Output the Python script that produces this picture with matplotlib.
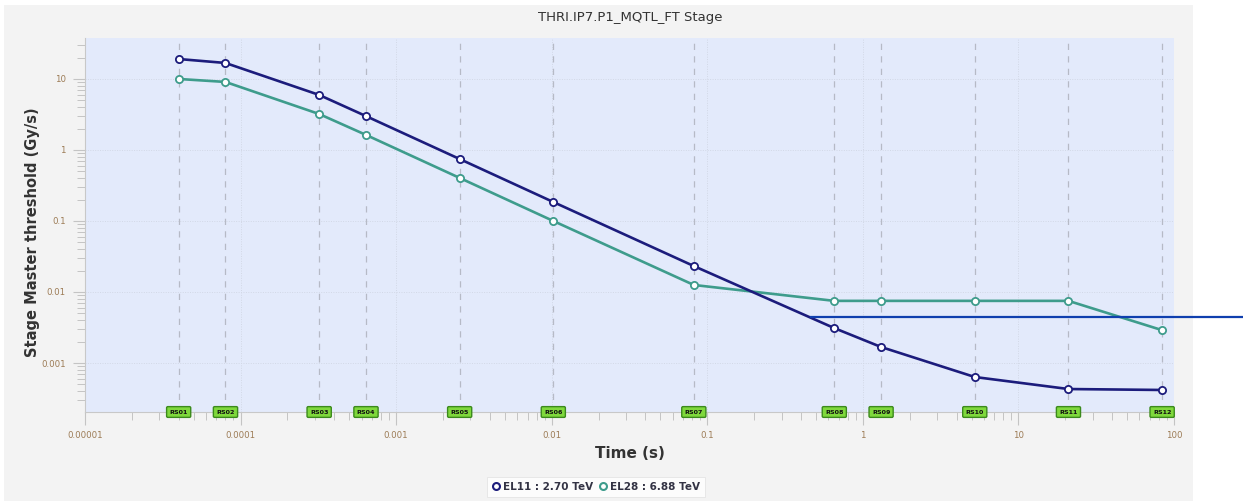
import matplotlib.pyplot as plt
import matplotlib.ticker as ticker
import matplotlib.transforms as mtransforms
from matplotlib.lines import Line2D
from matplotlib.patches import Rectangle

# running sums (s)
rs_names = ['RS01', 'RS02', 'RS03', 'RS04', 'RS05', 'RS06',
            'RS07', 'RS08', 'RS09', 'RS10', 'RS11', 'RS12']
rs_times = [4e-5, 8e-5, 3.2e-4, 6.4e-4, 2.56e-3, 1.024e-2,
            8.192e-2, 0.65536, 1.31, 5.24, 20.97, 83.89]

# thresholds (Gy/s)
el11 = [19.1, 16.8, 5.96, 3.0, 0.746, 0.185,
        0.0232, 0.0031, 0.00168, 0.000635, 0.00043, 0.000417]
el28 = [10.0, 9.08, 3.21, 1.63, 0.404, 0.1,
        0.01256, 0.0075, 0.0075, 0.0075, 0.0075, 0.0029]

x_ticks = [1e-5, 1e-4, 1e-3, 1e-2, 1e-1, 1, 10, 100]
x_labels = ['0.00001', '0.0001', '0.001', '0.01', '0.1', '1', '10', '100']
y_ticks = [1e-3, 1e-2, 1e-1, 1, 10]
y_labels = ['0.001', '0.01', '0.1', '1', '10']

navy = '#1c1c7c'
teal = '#3e9c8c'
tick_col = '#9c7b55'

W, H = 1243, 501
fig = plt.figure(figsize=(W / 100, H / 100), dpi=100)
fig.patch.set_facecolor('white')
# grey panel behind the chart
fig.patches.append(Rectangle((4 / W, 0), 1189 / W, 1 - 5 / H, transform=fig.transFigure,
                             facecolor='#f3f3f3', edgecolor='none', zorder=-10))

ax = fig.add_axes([85 / W, 1 - 412 / H, 1089 / W, 374 / H])
ax.set_facecolor('#e3eafb')
ax.set_xscale('log')
ax.set_yscale('log')
ax.set_xlim(1e-5, 100)
ax.set_ylim(10 ** -3.69, 10 ** 1.577)

# decade grid
for xv in x_ticks:
    ax.axvline(xv, color='#d2d8e6', lw=0.7, ls=(0, (1, 1.5)), zorder=1)
for yv in y_ticks:
    ax.axhline(yv, color='#d2d8e6', lw=0.7, ls=(0, (1, 1.5)), zorder=1)
# running sum markers
for t in rs_times:
    ax.axvline(t, color='#b6bac6', lw=0.9, ls=(0, (5, 5)), zorder=2)

ax.plot(rs_times, el11, color=navy, lw=1.9, marker='o', ms=5.2,
        mfc='white', mec=navy, mew=1.3, zorder=5)
ax.plot(rs_times, el28, color=teal, lw=1.9, marker='o', ms=5.2,
        mfc='white', mec=teal, mew=1.3, zorder=4)

trans = mtransforms.blended_transform_factory(ax.transData, ax.transAxes)
for name, t in zip(rs_names, rs_times):
    ax.text(t, 0.0, name, transform=trans, ha='center', va='center',
            fontsize=4.6, fontweight='bold', color='#111111', zorder=6, clip_on=False,
            bbox=dict(boxstyle='round,pad=0.45,rounding_size=0.2',
                      facecolor='#7fd83c', edgecolor='#3b8a1c', lw=1.0))

ax.set_xticks(x_ticks)
ax.set_xticklabels(x_labels)
ax.set_yticks(y_ticks)
ax.set_yticklabels(y_labels)
ax.xaxis.set_minor_locator(ticker.LogLocator(base=10, subs=range(2, 10), numticks=20))
ax.yaxis.set_minor_locator(ticker.LogLocator(base=10, subs=range(2, 10), numticks=20))
ax.xaxis.set_minor_formatter(ticker.NullFormatter())
ax.yaxis.set_minor_formatter(ticker.NullFormatter())
ax.tick_params(axis='both', which='major', colors='#c4c4c4', labelcolor=tick_col,
               labelsize=6.2, length=9, width=0.8, direction='out', pad=5)
ax.tick_params(axis='both', which='minor', colors='#c4c4c4', length=6, width=0.7,
               direction='out')

for s in ['top', 'right']:
    ax.spines[s].set_visible(False)
for s in ['left', 'bottom']:
    ax.spines[s].set_color('#c8c8c8')
    ax.spines[s].set_linewidth(0.8)

fig.text(630 / W, 1 - 17 / H, 'THRI.IP7.P1_MQTL_FT Stage', ha='center', va='center',
         fontsize=9.5, color='#333333')
fig.text(33 / W, 1 - 232 / H, 'Stage Master threshold (Gy/s)', rotation=90,
         ha='center', va='center', fontsize=10.5, fontweight='bold', color='#333333')
fig.text(630 / W, 1 - 453 / H, 'Time (s)', ha='center', va='center',
         fontsize=11, fontweight='bold', color='#333333')

handles = [Line2D([], [], ls='none', marker='o', ms=5, mfc='white', mec=navy, mew=1.5),
           Line2D([], [], ls='none', marker='o', ms=5, mfc='white', mec=teal, mew=1.5)]
leg = fig.legend(handles, ['EL11 : 2.70 TeV', 'EL28 : 6.88 TeV'], ncol=2,
                 loc='center', bbox_to_anchor=(596 / W, 1 - 487 / H),
                 frameon=True, fancybox=False, handlelength=0.8, handletextpad=0.3,
                 columnspacing=0.5, borderpad=0.45, prop={'size': 7.5, 'weight': 'bold'})
leg.get_frame().set_edgecolor('#e0e0e0')
leg.get_frame().set_facecolor('white')
leg.get_frame().set_linewidth(0.6)
for txt in leg.get_texts():
    txt.set_color('#333344')

# annotation line drawn across the right side
fig.lines.append(Line2D([811 / W, 1.0], [1 - 317 / H, 1 - 317 / H], transform=fig.transFigure,
                        color='#0f3fae', lw=1.6, zorder=10))

fig.savefig('out.png', dpi=100, facecolor=fig.get_facecolor())
